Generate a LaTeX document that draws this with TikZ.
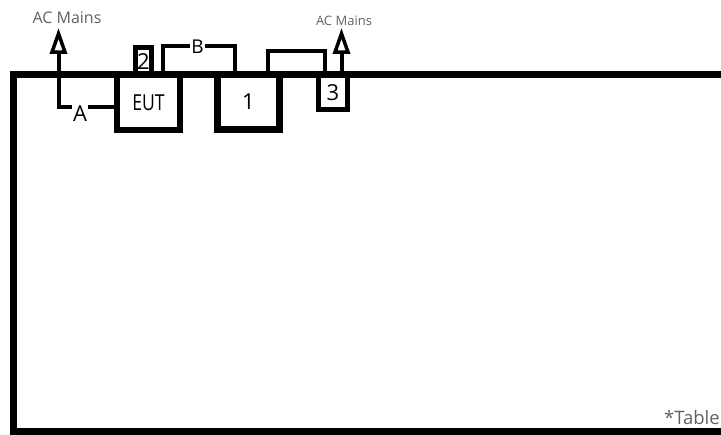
\documentclass[tikz,border=0pt]{standalone}
\usepackage{fontspec}
\setmainfont{Open Sans}
\usetikzlibrary{arrows.meta}

\begin{document}
\begin{tikzpicture}[x=1pt,y=-1pt,
  box/.style={draw,line width=#1,inner sep=0pt,outer sep=0pt,
    font=\fontsize{22}{22}\selectfont},
  wire/.style={line width=4pt},
  mains/.style={wire,-{Triangle[open,length=26pt,width=17pt,line width=3.5pt]}},
  tag/.style={fill=white,inner xsep=1pt,inner ysep=2.5pt},
  note/.style={text=black!62,inner sep=0pt}]
  \clip (0,0) rectangle (721,435);
  \draw[line width=7pt] (13.5,74.5) rectangle (730,431.5);
  \node[box=6.5pt,minimum width=63pt,minimum height=55.25pt] (eut) at (148.5,102.4) {\scalebox{0.8}[1]{EUT}};
  \node[box=7pt,minimum width=62pt,minimum height=54.75pt] (dev1) at (248.5,102.1) {1};
  \node[box=5pt,minimum width=16pt,minimum height=27.25pt] (dev2) at (143.5,61.1) {2};
  \node[box=4.7pt,minimum width=29pt,minimum height=35pt] (dev3) at (333,92.25) {3};
  \node[note,font=\fontsize{16}{16}\selectfont] (mainsl) at (67,17.5) {AC Mains};
  \node[note,font=\fontsize{13}{13}\selectfont] (mainsr) at (344,20.5) {AC Mains};
  \node[note,font=\fontsize{18.5}{18.5}\selectfont,anchor=east] (table) at (720,418) {*Table};
  \coordinate (tipl) at (58.5,28);
  \coordinate (tipr) at (341.5,28);
  \draw[mains] ([yshift=-5pt]eut.west) -| (tipl);
  \node[tag,font=\fontsize{22}{22}\selectfont] (laba) at (80,114) {A};
  \draw[wire] ([xshift=14pt]eut.north) -- ++(0,-29.25) -| ([xshift=-13.5pt]dev1.north);
  \node[tag,font=\fontsize{19}{19}\selectfont] (labb) at (197.5,47) {B};
  \draw[wire] ([xshift=19pt]dev1.north) -- ++(0,-23.75) -| ([xshift=-8pt]dev3.north);
  \draw[mains] ([xshift=8.5pt]dev3.north) -- (tipr);
\end{tikzpicture}
\end{document}
